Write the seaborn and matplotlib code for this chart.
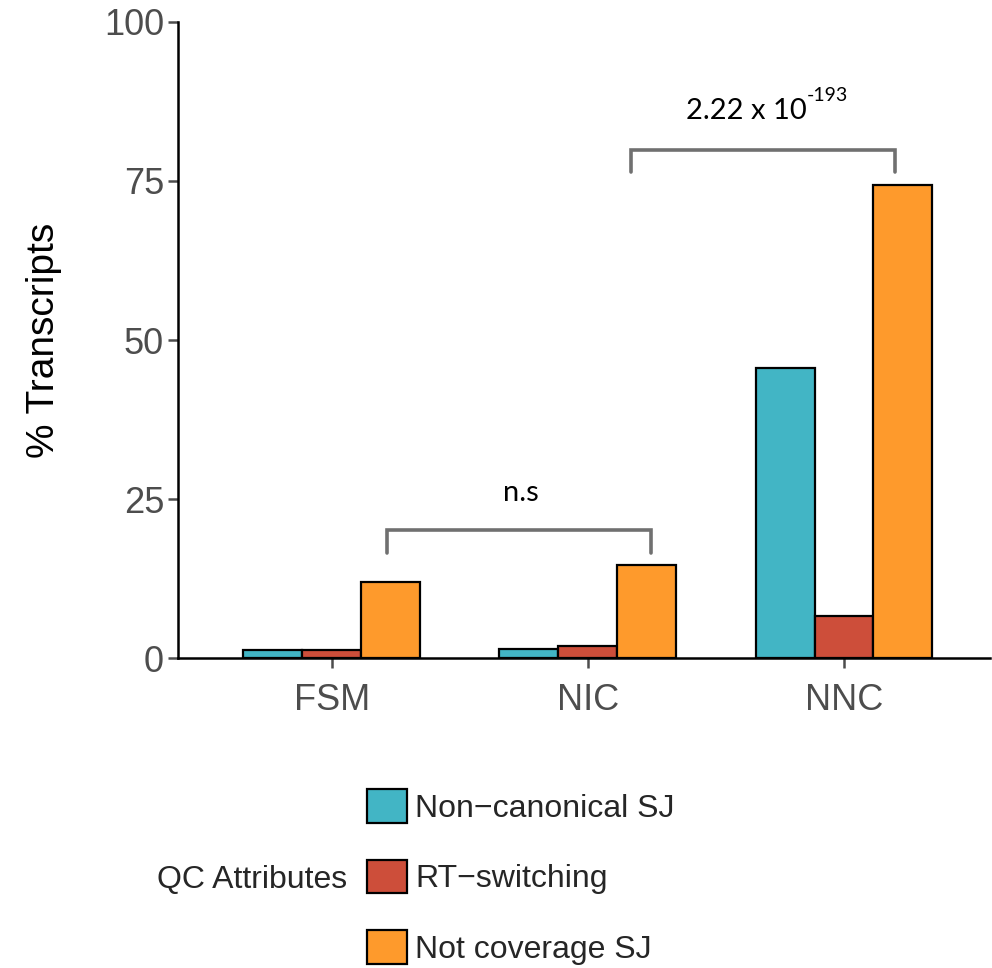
"""Grouped bars of QC attributes per structural category, with significance brackets."""

import matplotlib
matplotlib.use("Agg")
import matplotlib.pyplot as plt
import pandas as pd
import seaborn as sns

CATEGORIES = ["FSM", "NIC", "NNC"]
ATTRIBUTES = ["Non\u2212canonical SJ", "RT\u2212switching", "Not coverage SJ"]
NON_CANONICAL = [1.3, 1.4, 45.6]
RT_SWITCHING = [1.2, 1.9, 6.6]
NOT_COVERAGE = [11.9, 14.6, 74.4]
Y_TICKS = [0, 25, 50, 75, 100]

COLORS = ["#42B5C5", "#CD4E3A", "#FE9A2C"]

# brackets: x_left, x_right, y of bar, y of tips, label, superscript, label y
BRACKETS = [
    (0.215, 1.245, 20.1, 16.5, "n.s", "", 26.0),
    (1.168, 2.200, 79.9, 76.4, "2.22 x 10", "-193", 86.0),
]


def main():
    sns.set_theme(style="white")
    plt.rcParams["font.family"] = ["Liberation Sans", "DejaVu Sans"]

    rows = []
    for attr, vals in zip(ATTRIBUTES, [NON_CANONICAL, RT_SWITCHING, NOT_COVERAGE]):
        for cat, v in zip(CATEGORIES, vals):
            rows.append({"category": cat, "attribute": attr, "pct": v})
    df = pd.DataFrame(rows)

    fig = plt.figure(figsize=(9.92, 9.68), dpi=100)
    ax = fig.add_axes([0.1794, 0.3202, 0.8186, 0.6571])

    sns.barplot(
        data=df, x="category", y="pct", hue="attribute",
        order=CATEGORIES, hue_order=ATTRIBUTES, palette=COLORS,
        width=0.69, edgecolor="black", linewidth=1.6, saturation=1,
        ax=ax,
    )

    ax.set_xlim(-0.6, 2.57)
    ax.set_ylim(0, 100)
    ax.set_yticks(Y_TICKS)
    ax.set_xlabel("")
    ax.set_ylabel("% Transcripts", fontsize=28, labelpad=30, color="black")
    ax.tick_params(axis="both", labelsize=26, colors="#4D4D4D",
                   length=7, width=1.8, direction="out", left=True, bottom=True)
    ax.tick_params(axis="x", pad=11)
    ax.tick_params(axis="y", pad=3)
    for side in ["top", "right"]:
        ax.spines[side].set_visible(False)
    for side in ["left", "bottom"]:
        ax.spines[side].set_color("black")
        ax.spines[side].set_linewidth(1.8)

    note_font = ["Lato", "DejaVu Sans"]
    for x0, x1, yb, yt, label, sup, ylab in BRACKETS:
        ax.plot([x0, x0, x1, x1], [yt, yb, yb, yt], color="#707070",
                lw=2.6, solid_joinstyle="miter", clip_on=False)
        xc = (x0 + x1) / 2
        if sup:
            main_t = ax.text(xc - 0.065, ylab, label, ha="center", va="center",
                             fontsize=21, family=note_font, color="black")
            ax.annotate(sup, xy=(1.0, 0.78), xycoords=main_t, ha="left",
                        va="bottom", fontsize=14, family=note_font,
                        color="black")
        else:
            ax.text(xc + 0.01, ylab, label, ha="center", va="center",
                    fontsize=21, family=note_font, color="black")

    handles, labels = ax.get_legend_handles_labels()
    ax.get_legend().remove()
    fig.legend(handles, labels, loc="center left",
               bbox_to_anchor=(0.370, 0.094), frameon=False, fontsize=23,
               handlelength=1.25, handleheight=1.25, labelspacing=1.12,
               handletextpad=0.25, borderaxespad=0, borderpad=0)
    fig.text(0.158, 0.091, "QC Attributes", fontsize=23, ha="left", va="center")

    fig.savefig("out.png", dpi=100)


if __name__ == "__main__":
    main()
